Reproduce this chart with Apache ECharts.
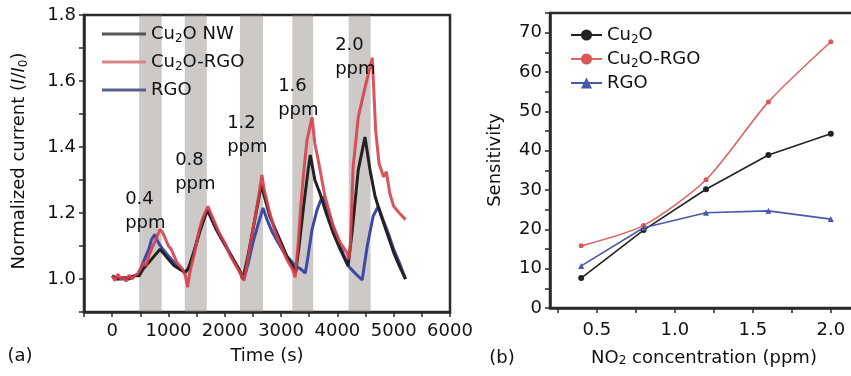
<!DOCTYPE html>
<html>
<head>
<meta charset="utf-8">
<script src="https://cdn.jsdelivr.net/npm/echarts@6/dist/echarts.min.js"></script>
<style>
  html, body { margin: 0; padding: 0; background: #fff; }
  #chart { width: 851px; height: 376px; }
</style>
</head>
<body>
<div id="chart"></div>
<script>
// Panel (a): normalized current vs time for three sensors
const timeRed = [0,50,100,150,200,250,300,350,400,450,500,550,600,650,700,750,800,850,900,950,1000,1050,1100,1150,1200,1250,1300,1340,1380,1450,1500,1550,1600,1650,1700,1750,1800,1900,2000,2100,2200,2300,2340,2400,2450,2500,2550,2600,2660,2700,2800,2900,3000,3100,3200,3250,3300,3350,3400,3460,3550,3600,3660,3780,3925,4050,4170,4200,4230,4280,4370,4490,4620,4680,4740,4820,4870,4930,5000,5100,5210];
const currentRed = [1.01,0.995,1.015,1.0,1.005,0.993,1.012,1.0,1.01,1.015,1.03,1.05,1.04,1.07,1.09,1.11,1.13,1.15,1.14,1.12,1.10,1.09,1.07,1.05,1.04,1.03,1.01,0.975,1.02,1.07,1.11,1.15,1.18,1.2,1.22,1.2,1.18,1.14,1.11,1.07,1.04,1.01,0.995,1.05,1.1,1.15,1.2,1.25,1.315,1.27,1.2,1.14,1.1,1.06,1.03,1.005,1.1,1.22,1.32,1.42,1.49,1.41,1.36,1.25,1.16,1.11,1.08,1.06,1.1,1.34,1.49,1.58,1.67,1.45,1.35,1.31,1.325,1.26,1.22,1.2,1.18];

const timeBlack = [0,100,200,300,400,480,550,650,750,850,900,1000,1100,1200,1290,1350,1450,1550,1650,1700,1750,1850,1950,2050,2150,2250,2320,2400,2500,2600,2650,2720,2800,2900,3000,3100,3200,3260,3320,3400,3480,3520,3600,3690,3800,3925,4050,4190,4260,4370,4490,4580,4670,4780,4880,5000,5100,5210];
const currentBlack = [1.01,1.0,1.005,1.0,1.01,1.01,1.03,1.05,1.07,1.09,1.08,1.06,1.04,1.03,1.02,1.03,1.08,1.14,1.19,1.21,1.19,1.15,1.12,1.09,1.06,1.03,1.0,1.06,1.15,1.24,1.285,1.24,1.19,1.15,1.11,1.07,1.04,1.02,1.1,1.22,1.33,1.376,1.3,1.26,1.2,1.14,1.09,1.04,1.14,1.33,1.43,1.33,1.25,1.19,1.14,1.08,1.04,1.0];

const timeBlue = [0,100,200,300,400,480,550,650,700,760,820,900,1000,1100,1200,1300,1380,1480,1580,1680,1740,1850,1950,2050,2150,2250,2340,2420,2500,2600,2680,2750,2850,2950,3050,3150,3250,3350,3430,3480,3550,3640,3730,3800,3925,4050,4190,4300,4440,4530,4635,4725,4810,4900,5000,5100,5210];
const currentBlue = [1.01,1.0,1.0,1.005,1.01,1.015,1.05,1.09,1.12,1.135,1.11,1.09,1.07,1.05,1.03,1.02,1.04,1.1,1.16,1.21,1.19,1.15,1.12,1.09,1.06,1.03,1.0,1.05,1.11,1.17,1.215,1.18,1.14,1.11,1.08,1.06,1.04,1.03,1.018,1.07,1.15,1.21,1.25,1.22,1.16,1.1,1.04,1.02,0.997,1.1,1.19,1.22,1.18,1.14,1.09,1.05,1.0];

// NO2 exposure windows (s)
const gasOn  = [480, 1290, 2270, 3200, 4200];
const gasOff = [880, 1680, 2680, 3570, 4590];

// Panel (b): sensitivity vs NO2 concentration
const concentration = [0.4, 0.8, 1.2, 1.6, 2.0];
const sensCu2O = [7.6, 19.8, 30.2, 38.9, 44.3];
const sensCu2ORGO = [15.8, 21.0, 32.6, 52.4, 67.7];
const sensRGO = [10.7, 20.4, 24.2, 24.7, 22.6];

const xTicksB = [0.25, 0.5, 0.75, 1.0, 1.25, 1.5, 1.75, 2.0];
const xLabelsB = [0.5, 1.0, 1.5, 2.0];

const FONT = 'DejaVu Sans';
const INK = '#111';
const FRAME = '#2a2a2a';

const pairs = (xs, ys) => xs.map((x, i) => [x, ys[i]]);

const legendText = {
  'Cu2O NW': '{t|Cu}{s|2}{t|O NW}',
  'Cu2O-RGO': '{t|Cu}{s|2}{t|O-RGO}',
  'RGO': '{t|RGO}',
  'S-Cu2O': '{t|Cu}{s|2}{t|O}',
  'S-Cu2O-RGO': '{t|Cu}{s|2}{t|O-RGO}',
  'S-RGO': '{t|RGO}'
};
const richLegend = {
  t: { fontSize: 18, fontFamily: FONT, color: INK, lineHeight: 22 },
  s: { fontSize: 12, fontFamily: FONT, color: INK, lineHeight: 12, verticalAlign: 'bottom' }
};

const chart = echarts.init(document.getElementById('chart'), null, { renderer: 'canvas' });

const axisCommon = {
  axisLine: { show: true, onZero: false, lineStyle: { color: FRAME, width: 2.5 } },
  axisTick: { show: true, inside: false, length: 5, lineStyle: { color: FRAME, width: 1.5 } },
  splitLine: { show: false },
  axisLabel: { color: INK, fontSize: 18, fontFamily: FONT }
};

const option = {
  backgroundColor: '#ffffff',
  animation: false,
  textStyle: { fontFamily: FONT },
  grid: [
    { left: 84, top: 15, width: 366, height: 297, show: true, borderColor: FRAME, borderWidth: 2.5,
      backgroundColor: 'transparent', outerBoundsMode: 'none', containLabel: false },
    { left: 550, top: 13, width: 312, height: 295, show: true, borderColor: FRAME, borderWidth: 2.5,
      backgroundColor: 'transparent', outerBoundsMode: 'none', containLabel: false }
  ],
  xAxis: [
    {
      gridIndex: 0, type: 'value', min: -500, max: 6000, interval: 500,
      ...axisCommon,
      axisLabel: { ...axisCommon.axisLabel, margin: 10,
        formatter: v => (Math.round(v) % 1000 === 0 ? String(Math.round(v)) : '') }
    },
    {
      gridIndex: 1, type: 'value', min: 0.2, max: 2.2,
      ...axisCommon,
      axisTick: { ...axisCommon.axisTick, customValues: xTicksB },
      axisLabel: { ...axisCommon.axisLabel, margin: 13, customValues: xLabelsB,
        formatter: v => v.toFixed(1) }
    }
  ],
  yAxis: [
    {
      gridIndex: 0, type: 'value', min: 0.9, max: 1.8, interval: 0.1,
      ...axisCommon,
      axisLabel: { ...axisCommon.axisLabel, margin: 8,
        formatter: v => { const r = Math.round(v * 10); return r % 2 === 0 ? (r / 10).toFixed(1) : ''; } }
    },
    {
      gridIndex: 1, type: 'value', min: 0, max: 75, interval: 5,
      ...axisCommon,
      axisLabel: { ...axisCommon.axisLabel, margin: 8,
        formatter: v => (Math.round(v) % 10 === 0 ? String(Math.round(v)) : '') }
    }
  ],
  legend: [
    {
      orient: 'vertical', left: 97, top: 20,
      icon: 'rect', itemWidth: 44, itemHeight: 3, itemGap: 8,
      data: [
        { name: 'Cu2O NW', itemStyle: { color: '#555555' } },
        { name: 'Cu2O-RGO', itemStyle: { color: '#d98585' } },
        { name: 'RGO', itemStyle: { color: '#5a6090' } }
      ],
      formatter: n => legendText[n],
      textStyle: { rich: richLegend }
    },
    {
      orient: 'vertical', left: 565, top: 21,
      itemWidth: 31, itemHeight: 14, itemGap: 4,
      data: ['S-Cu2O', 'S-Cu2O-RGO', 'S-RGO'],
      formatter: n => legendText[n],
      textStyle: { rich: richLegend }
    }
  ],
  graphic: [
    { type: 'text', x: 19, y: 161, rotation: Math.PI / 2,
      style: { text: 'Normalized current ({i|I}/{i|I}{s|0})', fill: INK, font: '18px ' + FONT,
        align: 'center', verticalAlign: 'middle',
        rich: {
          i: { fontSize: 18, fontFamily: FONT, fontStyle: 'italic', fill: INK, lineHeight: 22 },
          s: { fontSize: 12, fontFamily: FONT, fill: INK, lineHeight: 12, verticalAlign: 'bottom' }
        } } },
    { type: 'text', x: 267, y: 356,
      style: { text: 'Time (s)', fill: INK, font: '18px ' + FONT, align: 'center', verticalAlign: 'middle' } },
    { type: 'text', x: 20, y: 356,
      style: { text: '(a)', fill: INK, font: '18px ' + FONT, align: 'center', verticalAlign: 'middle' } },
    { type: 'text', x: 495, y: 160, rotation: Math.PI / 2,
      style: { text: 'Sensitivity', fill: INK, font: '18px ' + FONT, align: 'center', verticalAlign: 'middle' } },
    { type: 'text', x: 704, y: 358,
      style: { text: 'NO{s|2} concentration (ppm)', fill: INK, font: '18px ' + FONT,
        align: 'center', verticalAlign: 'middle',
        rich: { s: { fontSize: 12, fontFamily: FONT, fill: INK, lineHeight: 12, verticalAlign: 'bottom' } } } },
    { type: 'text', x: 502, y: 358,
      style: { text: '(b)', fill: INK, font: '18px ' + FONT, align: 'center', verticalAlign: 'middle' } }
  ],
  series: [
    {
      name: 'RGO', type: 'line', xAxisIndex: 0, yAxisIndex: 0,
      data: pairs(timeBlue, currentBlue),
      symbol: 'none', lineStyle: { color: '#3b4aa8', width: 3 }, itemStyle: { color: '#3b4aa8' },
      markArea: {
        silent: true,
        itemStyle: { color: 'rgba(128,120,115,0.4)' },
        data: gasOn.map((s, i) => [{ xAxis: s }, { xAxis: gasOff[i] }])
      }
    },
    {
      name: 'Cu2O NW', type: 'line', xAxisIndex: 0, yAxisIndex: 0,
      data: pairs(timeBlack, currentBlack),
      symbol: 'none', lineStyle: { color: '#222222', width: 3 }, itemStyle: { color: '#222222' }
    },
    {
      name: 'Cu2O-RGO', type: 'line', xAxisIndex: 0, yAxisIndex: 0,
      data: pairs(timeRed, currentRed),
      symbol: 'none', lineStyle: { color: '#d8404a', width: 3, opacity: 0.9 }, itemStyle: { color: '#d8404a' },
      markPoint: {
        silent: true, symbol: 'circle', symbolSize: 0,
        label: {
          show: true, position: 'right', distance: 0, color: INK,
          fontSize: 18, fontFamily: FONT, lineHeight: 24, align: 'left', verticalAlign: 'middle'
        },
        data: concentration.map((c, i) => ({
          coord: [[231, 1119, 2042, 2948, 3960][i], [1.206, 1.324, 1.436, 1.548, 1.673][i]],
          label: { formatter: c.toFixed(1) + '\nppm' }
        }))
      }
    },
    {
      name: 'S-Cu2O', type: 'line', xAxisIndex: 1, yAxisIndex: 1,
      data: pairs(concentration, sensCu2O),
      symbol: 'circle', symbolSize: 6,
      lineStyle: { color: '#222222', width: 1.6 }, itemStyle: { color: '#222222' }
    },
    {
      name: 'S-Cu2O-RGO', type: 'line', xAxisIndex: 1, yAxisIndex: 1,
      data: pairs(concentration, sensCu2ORGO), smooth: 0.25,
      symbol: 'circle', symbolSize: 5,
      lineStyle: { color: '#e06464', width: 1.6 }, itemStyle: { color: '#d85858' }
    },
    {
      name: 'S-RGO', type: 'line', xAxisIndex: 1, yAxisIndex: 1,
      data: pairs(concentration, sensRGO),
      symbol: 'triangle', symbolSize: 6,
      lineStyle: { color: '#4a58a8', width: 1.6 }, itemStyle: { color: '#4a58a8' }
    }
  ]
};

chart.setOption(option);
</script>
</body>
</html>
